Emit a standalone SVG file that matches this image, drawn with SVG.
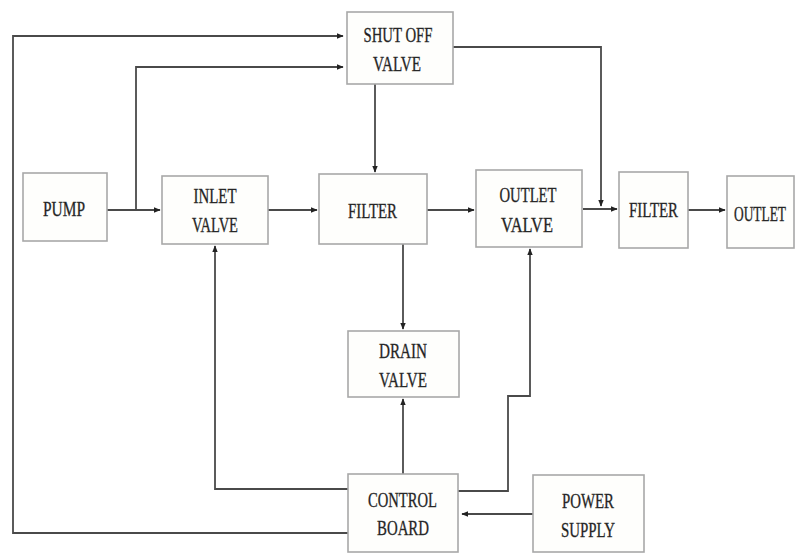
<svg xmlns="http://www.w3.org/2000/svg" width="797" height="554" viewBox="0 0 797 554">
<style>
.box{fill:#fefefc;stroke:#a8a8a8;stroke-width:1.6}
.t{font-family:"Liberation Serif","Times New Roman",serif;font-size:21px;fill:#1e1e1e;stroke:#333;stroke-width:0.35;text-anchor:middle}
.c{fill:none;stroke:#4a4a4a;stroke-width:1.8}
</style>
<defs>
<marker id="a" viewBox="0 0 10 10" refX="9" refY="5" markerWidth="7" markerHeight="7" markerUnits="userSpaceOnUse" orient="auto">
<path d="M0,1 L10,5 L0,9 z" fill="#222"/>
</marker>
</defs>
<rect width="797" height="554" fill="#fff"/>
<g id="connectors">
<path class="c" d="M348,533 H13 V36 H343" marker-end="url(#a)"/>
<path class="c" d="M136,210 V67 H343" marker-end="url(#a)"/>
<path class="c" d="M96,210 H160" marker-end="url(#a)"/>
<path class="c" d="M268,210 H317" marker-end="url(#a)"/>
<path class="c" d="M427,210 H474" marker-end="url(#a)"/>
<path class="c" d="M583,209 H617" marker-end="url(#a)"/>
<path class="c" d="M688,210 H725" marker-end="url(#a)"/>
<path class="c" d="M375,84 V172" marker-end="url(#a)"/>
<path class="c" d="M453,47 H601 V206" marker-end="url(#a)"/>
<path class="c" d="M403,244 V329" marker-end="url(#a)"/>
<path class="c" d="M403,474 V399" marker-end="url(#a)"/>
<path class="c" d="M533,514 H462" marker-end="url(#a)"/>
<path class="c" d="M458,491 H508 V396 H530 V249" marker-end="url(#a)"/>
<path class="c" d="M348,489 H215 V246" marker-end="url(#a)"/>
</g>
<g id="shutoff"><rect class="box" x="347" y="12" width="106" height="72"/>
<text class="t" x="398" y="42" textLength="69" lengthAdjust="spacingAndGlyphs">SHUT OFF</text>
<text class="t" x="397" y="71" textLength="48" lengthAdjust="spacingAndGlyphs">VALVE</text></g>
<g id="pump"><rect class="box" x="23" y="173" width="84" height="68"/>
<text class="t" x="64" y="216" textLength="42" lengthAdjust="spacingAndGlyphs">PUMP</text></g>
<g id="inlet"><rect class="box" x="162" y="176" width="106" height="68"/>
<text class="t" x="215" y="203" textLength="43" lengthAdjust="spacingAndGlyphs">INLET</text>
<text class="t" x="215" y="232" textLength="46" lengthAdjust="spacingAndGlyphs">VALVE</text></g>
<g id="filter1"><rect class="box" x="319" y="174" width="108" height="70"/>
<text class="t" x="372.5" y="218" textLength="49" lengthAdjust="spacingAndGlyphs">FILTER</text></g>
<g id="outletvalve"><rect class="box" x="476" y="170" width="106" height="77"/>
<text class="t" x="528" y="202" textLength="57" lengthAdjust="spacingAndGlyphs">OUTLET</text>
<text class="t" x="527" y="232" textLength="52" lengthAdjust="spacingAndGlyphs">VALVE</text></g>
<g id="filter2"><rect class="box" x="619" y="172" width="69" height="76"/>
<text class="t" x="653.5" y="217" textLength="49" lengthAdjust="spacingAndGlyphs">FILTER</text></g>
<g id="outlet"><rect class="box" x="727" y="176" width="67" height="72"/>
<text class="t" x="760" y="221" style="font-size:20px" textLength="52" lengthAdjust="spacingAndGlyphs">OUTLET</text></g>
<g id="drain"><rect class="box" x="348" y="331" width="111" height="66"/>
<text class="t" x="403" y="358" textLength="48" lengthAdjust="spacingAndGlyphs">DRAIN</text>
<text class="t" x="403" y="387" textLength="48" lengthAdjust="spacingAndGlyphs">VALVE</text></g>
<g id="control"><rect class="box" x="348" y="474" width="110" height="78"/>
<text class="t" x="402.5" y="507" textLength="69" lengthAdjust="spacingAndGlyphs">CONTROL</text>
<text class="t" x="403" y="535" textLength="52" lengthAdjust="spacingAndGlyphs">BOARD</text></g>
<g id="power"><rect class="box" x="533" y="475" width="111" height="77"/>
<text class="t" x="588" y="508" textLength="52" lengthAdjust="spacingAndGlyphs">POWER</text>
<text class="t" x="588" y="537" textLength="54" lengthAdjust="spacingAndGlyphs">SUPPLY</text></g>
</svg>
